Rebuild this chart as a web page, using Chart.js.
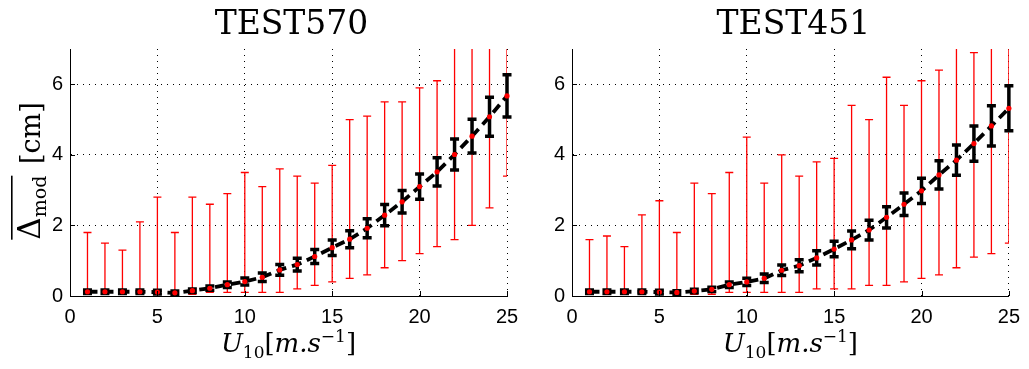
<!DOCTYPE html>
<html>
<head>
<meta charset="utf-8">
<script src="https://cdn.jsdelivr.net/npm/chart.js@4/dist/chart.umd.min.js"></script>
<style>
  html, body { margin: 0; padding: 0; background: #fff; }
  #wrap { position: relative; width: 1029px; height: 369px; overflow: hidden; }
  canvas { position: absolute; top: 0; }
</style>
</head>
<body>
<div id="wrap">
  <canvas id="left" width="530" height="369" style="left:0"></canvas>
  <canvas id="right" width="515" height="369" style="left:514px"></canvas>
</div>
<script>
// wind speed classes (m/s)
const windSpeed = [1, 2, 3, 4, 5, 6, 7, 8, 9, 10, 11, 12, 13, 14, 15, 16, 17, 18, 19, 20, 21, 22, 23, 24, 25];
const xTicks = [0, 5, 10, 15, 20, 25];
const yTicks = [0, 2, 4, 6];

// TEST570: mean, std of the mean, and min/max envelope (cm)
const mean570 = [0.12, 0.12, 0.12, 0.12, 0.11, 0.09, 0.15, 0.22, 0.32, 0.41, 0.53, 0.74, 0.89, 1.12, 1.37, 1.61, 1.92, 2.29, 2.67, 3.10, 3.52, 4.01, 4.53, 5.08, 5.67];
const err570  = [0.05, 0.05, 0.05, 0.05, 0.05, 0.05, 0.05, 0.06, 0.08, 0.10, 0.12, 0.15, 0.18, 0.20, 0.22, 0.24, 0.27, 0.30, 0.32, 0.36, 0.40, 0.44, 0.48, 0.55, 0.60];
const low570  = [0.05, 0.05, 0.05, 0.05, 0.05, 0.05, 0.05, 0.10, 0.10, 0.10, 0.10, 0.10, 0.20, 0.30, 0.40, 0.50, 0.60, 0.80, 1.00, 1.20, 1.40, 1.60, 2.00, 2.50, 3.40];
const high570 = [1.8, 1.5, 1.3, 2.1, 2.8, 1.8, 2.8, 2.6, 2.9, 3.5, 3.1, 3.6, 3.4, 3.2, 3.7, 5.0, 5.1, 5.5, 5.5, 5.9, 6.1, 7.6, 8.1, 8.6, 9.4];

// TEST451
const mean451 = [0.12, 0.12, 0.12, 0.12, 0.11, 0.10, 0.14, 0.19, 0.32, 0.40, 0.50, 0.73, 0.86, 1.08, 1.33, 1.59, 1.87, 2.23, 2.60, 2.98, 3.43, 3.85, 4.32, 4.82, 5.32];
const err451  = [0.05, 0.05, 0.05, 0.05, 0.05, 0.05, 0.05, 0.06, 0.08, 0.10, 0.12, 0.15, 0.17, 0.20, 0.22, 0.25, 0.28, 0.30, 0.32, 0.36, 0.40, 0.43, 0.50, 0.57, 0.64];
const low451  = [0.05, 0.05, 0.05, 0.05, 0.05, 0.05, 0.05, 0.05, 0.10, 0.10, 0.10, 0.10, 0.10, 0.20, 0.20, 0.20, 0.30, 0.30, 0.40, 0.50, 0.60, 0.80, 1.10, 1.20, 1.50];
const high451 = [1.6, 1.7, 1.4, 2.3, 2.7, 1.8, 3.2, 2.9, 3.5, 4.5, 3.2, 4.0, 3.4, 3.8, 3.9, 5.4, 5.0, 6.2, 5.4, 6.1, 6.4, 7.5, 6.9, 7.8, 8.2];

const tickFont = { family: "'Liberation Sans', Arial, sans-serif", size: 20 };
const serif = "'DejaVu Serif', 'Liberation Serif', serif";

// red min/max whiskers under everything, black +/- bars right after the dashed line
function errorBars(mean, err, low, high) {
  return {
    id: 'errorBars',
    beforeDatasetsDraw(chart) {
      const { ctx, chartArea: a, scales: { x, y } } = chart;
      ctx.save();
      ctx.beginPath();
      ctx.rect(a.left, a.top, a.right - a.left, a.bottom - a.top);
      ctx.clip();
      ctx.strokeStyle = '#ff0000';
      ctx.lineWidth = 1.3;
      windSpeed.forEach((u, i) => {
        const px = x.getPixelForValue(u);
        const y0 = y.getPixelForValue(low[i]);
        const y1 = y.getPixelForValue(high[i]);
        ctx.beginPath();
        ctx.moveTo(px, y0); ctx.lineTo(px, y1);
        ctx.moveTo(px - 4, y0); ctx.lineTo(px + 4, y0);
        ctx.moveTo(px - 4, y1); ctx.lineTo(px + 4, y1);
        ctx.stroke();
      });
      ctx.restore();
    },
    afterDatasetDraw(chart, args) {
      if (args.index !== 1) return;
      const { ctx, scales: { x, y } } = chart;
      ctx.save();
      ctx.strokeStyle = '#000';
      ctx.lineWidth = 3.5;
      windSpeed.forEach((u, i) => {
        const px = x.getPixelForValue(u);
        const y0 = y.getPixelForValue(mean[i] - err[i]);
        const y1 = y.getPixelForValue(mean[i] + err[i]);
        ctx.beginPath();
        ctx.moveTo(px, y0); ctx.lineTo(px, y1);
        ctx.moveTo(px - 4.5, y0); ctx.lineTo(px + 4.5, y0);
        ctx.moveTo(px - 4.5, y1); ctx.lineTo(px + 4.5, y1);
        ctx.stroke();
      });
      ctx.restore();
    }
  };
}

// draw a run of [text, font, dy] pieces starting at x0
function drawRun(ctx, pieces, x0, y0) {
  let xx = x0;
  pieces.forEach(([t, f, dy]) => {
    ctx.font = f;
    ctx.fillText(t, xx, y0 + dy);
    xx += ctx.measureText(t).width;
  });
  return xx;
}
function runWidth(ctx, pieces) {
  let w = 0;
  pieces.forEach(([t, f]) => { ctx.font = f; w += ctx.measureText(t).width; });
  return w;
}

function labels(title, withYLabel) {
  return {
    id: 'labels',
    afterDraw(chart) {
      const { ctx, chartArea: a } = chart;
      const cx = (a.left + a.right) / 2;
      ctx.save();
      ctx.fillStyle = '#000';
      ctx.textBaseline = 'alphabetic';

      // title
      ctx.font = '33px ' + serif;
      ctx.textAlign = 'center';
      ctx.fillText(title, cx + 3, 34);
      ctx.textAlign = 'left';

      // x label: U_10[m.s^-1]
      const xl = [
        ['U', 'italic 26px ' + serif, 0],
        ['10', '17px ' + serif, 6],
        ['[', '26px ' + serif, 0],
        ['m.s', 'italic 26px ' + serif, 0],
        ['\u22121', '17px ' + serif, -10],
        [']', '26px ' + serif, 0]
      ];
      drawRun(ctx, xl, cx - runWidth(ctx, xl) / 2, 352);

      if (withYLabel) {
        // overlined Delta_mod [cm], rotated
        const yl = [
          ['\u0394', '31px ' + serif, 0],
          ['mod', '19px ' + serif, 6]
        ];
        const unit = [[' [cm]', '27px ' + serif, 0]];
        const w1 = runWidth(ctx, yl);
        const w = w1 + runWidth(ctx, unit);
        ctx.translate(40, (a.top + a.bottom) / 2);
        ctx.rotate(-Math.PI / 2);
        const start = -w / 2;
        drawRun(ctx, yl, start, 0);
        drawRun(ctx, unit, start + w1 + 3, 0);
        ctx.fillRect(start, -29, w1, 1.6);
      }
      ctx.restore();
    }
  };
}

// MATLAB-style inward ticks on the two drawn axes
const inwardTicks = {
  id: 'inwardTicks',
  afterDraw(chart) {
    const { ctx, chartArea: a, scales: { x, y } } = chart;
    ctx.save();
    ctx.strokeStyle = '#000';
    ctx.lineWidth = 1;
    ctx.beginPath();
    xTicks.forEach(v => {
      const px = Math.round(x.getPixelForValue(v)) + 0.5;
      ctx.moveTo(px, a.bottom); ctx.lineTo(px, a.bottom - 5);
    });
    yTicks.forEach(v => {
      const py = Math.round(y.getPixelForValue(v)) + 0.5;
      ctx.moveTo(a.left, py); ctx.lineTo(a.left + 5, py);
    });
    ctx.stroke();
    ctx.restore();
  }
};

function makeChart(id, title, mean, err, low, high, yWidth, padRight, withYLabel) {
  const pts = windSpeed.map((u, i) => ({ x: u, y: mean[i] }));
  return new Chart(document.getElementById(id), {
    type: 'scatter',
    data: {
      datasets: [
        { data: pts, showLine: false, pointRadius: 2.6, pointBackgroundColor: '#ff0000', pointBorderWidth: 0, clip: false },
        { data: pts, showLine: true, borderColor: '#000', borderWidth: 3.8, borderDash: [10, 6], pointRadius: 0, tension: 0, fill: false }
      ]
    },
    options: {
      responsive: false,
      animation: false,
      events: [],
      layout: { padding: { top: 49, right: padRight, left: 0, bottom: 0 } },
      plugins: { legend: { display: false }, tooltip: { enabled: false } },
      scales: {
        x: {
          type: 'linear', min: 0, max: 25,
          afterBuildTicks: s => { s.ticks = xTicks.map(v => ({ value: v })); },
          afterFit: s => { s.height = 73; },
          grid: { color: '#000', lineWidth: 1, drawTicks: false },
          border: { display: true, color: '#000', width: 1, dash: [1, 5] },
          ticks: { font: tickFont, color: '#000', padding: 9, maxRotation: 0 }
        },
        y: {
          type: 'linear', min: 0, max: 7,
          afterBuildTicks: s => { s.ticks = yTicks.map(v => ({ value: v })); },
          afterFit: s => { s.width = yWidth; },
          grid: { color: '#000', lineWidth: 1, drawTicks: false },
          border: { display: true, color: '#000', width: 1, dash: [1, 5] },
          ticks: { font: tickFont, color: '#000', padding: 7 }
        }
      }
    },
    plugins: [errorBars(mean, err, low, high), inwardTicks, labels(title, withYLabel)]
  });
}

makeChart('left', 'TEST570', mean570, err570, low570, high570, 70, 23, true);
makeChart('right', 'TEST451', mean451, err451, low451, high451, 58, 19, false);
</script>
</body>
</html>
